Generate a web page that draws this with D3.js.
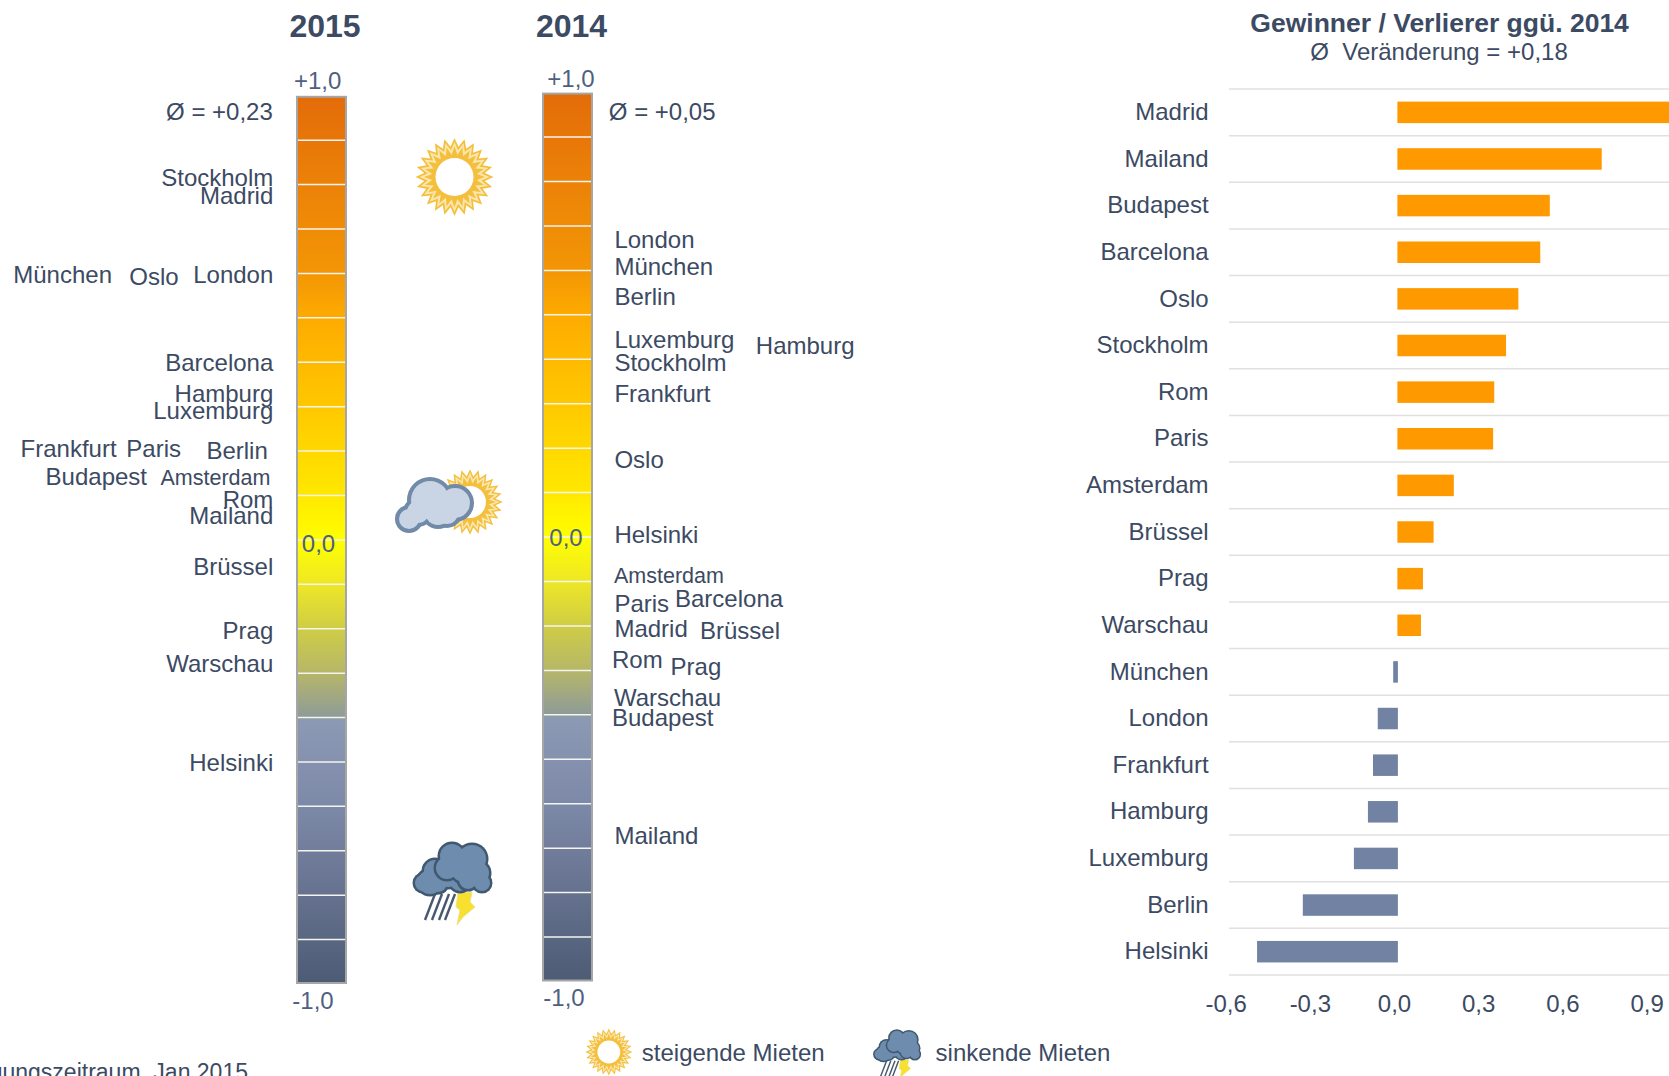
<!DOCTYPE html>
<html>
<head>
<meta charset="utf-8">
<script src="https://cdn.jsdelivr.net/npm/d3@7"></script>
<style>
  html, body { margin: 0; padding: 0; background: #fff; overflow: hidden; }
  svg { display: block; }
  text { font-family: "Liberation Sans", Arial, sans-serif; fill: #3c4a63; }
</style>
</head>
<body>
<div id="chart"></div>
<script>
// thermometer values
var cities2015 = ["Stockholm", "Madrid", "München", "Oslo", "London", "Barcelona", "Hamburg", "Luxemburg", "Frankfurt", "Paris", "Berlin", "Budapest", "Amsterdam", "Rom", "Mailand", "Brüssel", "Prag", "Warschau", "Helsinki"];
var values2015 = [0.815, 0.774, 0.597, 0.592, 0.597, 0.398, 0.33, 0.291, 0.204, 0.204, 0.2, 0.141, 0.139, 0.091, 0.055, -0.06, -0.204, -0.28, -0.503];

var cities2014 = ["London", "München", "Berlin", "Luxemburg", "Hamburg", "Stockholm", "Frankfurt", "Oslo", "Helsinki", "Amsterdam", "Paris", "Barcelona", "Madrid", "Brüssel", "Rom", "Prag", "Warschau", "Budapest", "Mailand"];
var values2014 = [0.669, 0.609, 0.542, 0.444, 0.431, 0.392, 0.323, 0.174, 0.005, -0.087, -0.15, -0.138, -0.205, -0.21, -0.275, -0.291, -0.362, -0.406, -0.672];

// bar chart
var barCities = ["Madrid", "Mailand", "Budapest", "Barcelona", "Oslo", "Stockholm", "Rom", "Paris", "Amsterdam", "Brüssel", "Prag", "Warschau", "München", "London", "Frankfurt", "Hamburg", "Luxemburg", "Berlin", "Helsinki"];
var barValues = [0.98, 0.728, 0.543, 0.509, 0.431, 0.387, 0.345, 0.341, 0.201, 0.129, 0.091, 0.084, -0.015, -0.07, -0.087, -0.105, -0.155, -0.337, -0.5];
var barTicks = [-0.6, -0.3, 0, 0.3, 0.6, 0.9];

var width = 1669, height = 1076;

var de = d3.formatLocale({ decimal: ",", thousands: ".", grouping: [3], currency: ["", "€"], minus: "-" });

var svg = d3.select("#chart").append("svg")
  .attr("width", width)
  .attr("height", height);

var defs = svg.append("defs");

// the icons are soft raster pictures in the original
defs.append("filter").attr("id", "soft")
  .attr("x", "-10%").attr("y", "-10%").attr("width", "120%").attr("height", "120%")
  .append("feGaussianBlur").attr("stdDeviation", 0.6);

// colour ramp of the thermometers, value -> colour
var ramp = d3.scaleLinear()
  .domain([1, 0.8, 0.6, 0.5, 0.3, 0.1, 0, -0.1, -0.2, -0.3, -0.4, -0.41, -0.6, -1])
  .range(["#e36c09", "#ec8208", "#f39605", "#feab00", "#ffc800", "#ffe800", "#ffff00", "#eee726", "#cfcd45", "#b6b768", "#8e9b98", "#8c99b4", "#7d89a8", "#4e5b75"]);

var grad = defs.append("linearGradient")
  .attr("id", "thermo")
  .attr("x1", 0).attr("y1", 0).attr("x2", 0).attr("y2", 1);

grad.selectAll("stop")
  .data(ramp.domain())
  .enter().append("stop")
  .attr("offset", function (d) { return (1 - d) / 2; })
  .attr("stop-color", function (d) { return ramp(d); });

function thermometer(opts) {
  var y = d3.scaleLinear().domain([-1, 1]).range([opts.bottom, opts.top]);
  var g = svg.append("g");

  g.append("rect")
    .attr("x", opts.left + 1)
    .attr("y", opts.top + 1)
    .attr("width", opts.right - opts.left - 2)
    .attr("height", opts.bottom - opts.top - 2)
    .attr("fill", "url(#thermo)")
    .attr("stroke", "#a6a6a6")
    .attr("stroke-width", 2);

  // white separators every 0,1
  g.selectAll(".sep")
    .data(y.ticks(20).filter(function (d) { return Math.abs(d) < 0.99; }))
    .enter().append("line")
    .attr("class", "sep")
    .attr("x1", opts.left + 2)
    .attr("x2", opts.right - 2)
    .attr("y1", function (d) { return y(d); })
    .attr("y2", function (d) { return y(d); })
    .attr("stroke", "#f4f4f0")
    .attr("stroke-width", 1.5);

  return y;
}

var y2015 = thermometer({ left: 296, right: 347, top: 95.8, bottom: 984 });
var y2014 = thermometer({ left: 542, right: 593, top: 92.6, bottom: 981.5 });

// labels that were pushed sideways in the original, by hand
var edge2015 = { "München": 112, "Oslo": 178.6, "Frankfurt": 116.6, "Paris": 181, "Berlin": 267.8, "Budapest": 147, "Amsterdam": 270.4 };
var edge2014 = { "Hamburg": 755.8, "Barcelona": 675, "Brüssel": 700, "Rom": 612, "Prag": 670.6, "Warschau": 614, "Budapest": 612, "Amsterdam": 614 };

svg.append("g").selectAll("text")
  .data(cities2015)
  .enter().append("text")
  .attr("x", function (d) { return edge2015[d] || 273.3; })
  .attr("y", function (d, i) { return y2015(values2015[i]); })
  .attr("dy", "0.34em")
  .attr("text-anchor", "end")
  .attr("font-size", function (d) { return d === "Amsterdam" ? 21.5 : 24; })
  .text(function (d) { return d; });

svg.append("g").selectAll("text")
  .data(cities2014)
  .enter().append("text")
  .attr("x", function (d) { return edge2014[d] || 614.4; })
  .attr("y", function (d, i) { return y2014(values2014[i]); })
  .attr("dy", "0.35em")
  .attr("font-size", function (d) { return d === "Amsterdam" ? 21.5 : 24; })
  .text(function (d) { return d; });

function label(x, y, txt, size, anchor, weight, color) {
  var t = svg.append("text")
    .attr("x", x)
    .attr("y", y)
    .attr("dy", "0.35em")
    .attr("font-size", size)
    .attr("text-anchor", anchor || "start")
    .text(txt);
  if (weight) t.attr("font-weight", weight);
  if (color) t.style("fill", color);
  return t;
}

var scaleBlue = "#4f5f82";

label(325, 26, "2015", 32, "middle", "bold");
label(571.5, 26, "2014", 32, "middle", "bold");

label(317.7, 81, "+1,0", 24, "middle", null, scaleBlue);
label(571, 78.5, "+1,0", 24, "middle", null, scaleBlue);
label(318.5, 544, "0,0", 24, "middle", null, scaleBlue);
label(566, 538, "0,0", 24, "middle", null, scaleBlue);
label(313, 1001, "-1,0", 24, "middle", null, scaleBlue);
label(564, 998, "-1,0", 24, "middle", null, scaleBlue);

label(272.8, 112, "Ø = +0,23", 24, "end");
label(608.8, 112, "Ø = +0,05", 24);

// weather icons
function starPoints(n, rOut, rIn) {
  var pts = d3.range(n * 2).map(function (i) {
    return [i * Math.PI / n, i % 2 ? rIn : rOut];
  });
  return d3.lineRadial().curve(d3.curveLinearClosed)(pts);
}

function sun(cx, cy, k) {
  var g = svg.append("g")
    .attr("filter", "url(#soft)")
    .attr("transform", "translate(" + cx + "," + cy + ") scale(" + k + ")");
  g.append("path").attr("d", starPoints(24, 39, 30.5)).attr("fill", "#f4bf3c");
  g.append("path").attr("d", starPoints(24, 35, 27)).attr("fill", "#fbe7ae");
  g.append("path").attr("d", starPoints(24, 30.5, 22.5)).attr("fill", "#f4bf3c");
  g.append("circle").attr("r", 19).attr("fill", "#fff");
  return g;
}

function blobs(parent, list, fill, stroke, sw) {
  var g = parent.append("g");
  g.selectAll(".o").data(list).enter().append("circle").attr("class", "o")
    .attr("cx", function (d) { return d[0]; })
    .attr("cy", function (d) { return d[1]; })
    .attr("r", function (d) { return d[2] + sw; })
    .attr("fill", stroke);
  g.selectAll(".i").data(list).enter().append("circle").attr("class", "i")
    .attr("cx", function (d) { return d[0]; })
    .attr("cy", function (d) { return d[1]; })
    .attr("r", function (d) { return d[2]; })
    .attr("fill", fill);
}

function storm(cx, cy, k) {
  var g = svg.append("g")
    .attr("filter", "url(#soft)")
    .attr("transform", "translate(" + cx + "," + cy + ") scale(" + k + ")");
  // rain
  [-19, -12, -5, 1].forEach(function (x0) {
    g.append("line")
      .attr("x1", x0).attr("y1", 8)
      .attr("x2", x0 - 10).attr("y2", 34)
      .attr("stroke", "#46586f")
      .attr("stroke-width", 2.4);
  });
  // bolt
  g.append("path")
    .attr("d", "M4,7 L18,6 L16,16 L21,21 L9,31 L3,39 L6,24 L2,21 Z")
    .attr("fill", "#f7e12e")
    .attr("stroke", "#efe08a")
    .attr("stroke-width", 1);
  blobs(g, [[-24, -4, 12], [-31, -3, 8], [-16, -3, 9], [6, -5, 10], [-19, -15, 11], [-6, -10, 11]], "#6e8cae", "#3f586f", 2.5);
  blobs(g, [[-2, -30, 12], [-7, -18, 11], [18, -27, 14], [24, -13, 11], [10, -17, 13], [28, -3, 8], [14, -6, 9]], "#6e8cae", "#3f586f", 2.5);
  return g;
}

sun(454.5, 177, 1);

sun(470, 502, 0.84);
var cloud = svg.append("g").attr("filter", "url(#soft)").attr("transform", "translate(380,400)");
blobs(cloud, [[29, 119, 10], [50, 100, 19], [75, 103, 15], [67, 113, 11], [38, 112, 11], [58, 112, 13]], "#c9d5e4", "#6f8aa8", 4);

storm(454, 886, 1);

// bar chart
var x = d3.scaleLinear().domain([-0.6, 0.9]).range([1229, 1650]);
var rowTop = 89, rowStep = 46.63;
var y = d3.scaleBand()
  .domain(barCities)
  .range([rowTop, rowTop + rowStep * barCities.length]);

label(1439.6, 23, "Gewinner / Verlierer ggü. 2014", 26.5, "middle", "bold");
label(1439, 52, "Ø  Veränderung = +0,18", 24, "middle").style("white-space", "pre");

svg.append("g").selectAll("line")
  .data(d3.range(barCities.length + 1))
  .enter().append("line")
  .attr("x1", x(-0.6))
  .attr("x2", width)
  .attr("y1", function (d) { return rowTop + d * rowStep; })
  .attr("y2", function (d) { return rowTop + d * rowStep; })
  .attr("stroke", "#e0e0e0")
  .attr("stroke-width", 1.5);

svg.append("g").selectAll("rect")
  .data(barCities)
  .enter().append("rect")
  .attr("x", function (d, i) { return Math.min(x(0), x(barValues[i])); })
  .attr("y", function (d) { return y(d) + 12.6; })
  .attr("width", function (d, i) { return Math.abs(x(barValues[i]) - x(0)) + (barValues[i] < 0 ? 0.5 : 0); })
  .attr("height", 21.5)
  .attr("fill", function (d, i) { return barValues[i] >= 0 ? "#ff9900" : "#7282a3"; });

svg.append("g").selectAll("text")
  .data(barCities)
  .enter().append("text")
  .attr("x", 1208.6)
  .attr("y", function (d) { return y(d) + y.bandwidth() / 2; })
  .attr("dy", "0.32em")
  .attr("text-anchor", "end")
  .attr("font-size", 24)
  .text(function (d) { return d; });

var axis = svg.append("g")
  .attr("transform", "translate(-3.4," + (rowTop + rowStep * barCities.length) + ")")
  .call(d3.axisBottom(x).tickValues(barTicks).tickFormat(de.format(".1f")).tickSize(0).tickPadding(20));
axis.select(".domain").remove();
axis.selectAll("text")
  .attr("font-size", 24)
  .style("fill", "#3c4a63");
axis.attr("font-family", null);

// legend + footer
sun(608.8, 1052, 0.6);
label(641.8, 1053, "steigende Mieten", 24);
storm(898, 1056, 0.6);
label(935.6, 1053, "sinkende Mieten", 24);

svg.append("text")
  .attr("x", 248)
  .attr("y", 1080)
  .attr("text-anchor", "end")
  .attr("font-size", 23)
  .style("white-space", "pre")
  .text("Befragungszeitraum  Jan 2015");
</script>
</body>
</html>
